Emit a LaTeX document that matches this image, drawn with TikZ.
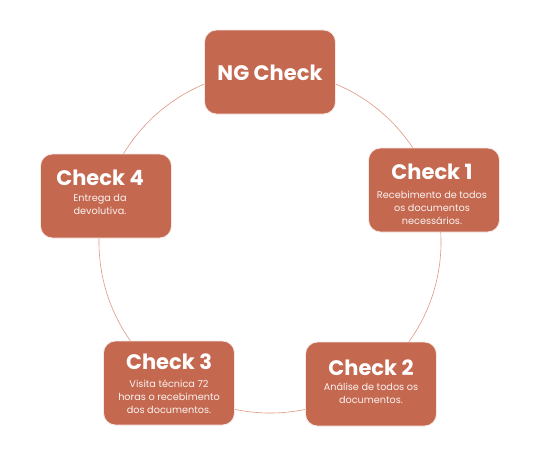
\documentclass[tikz,border=0pt]{standalone}
\usepackage{fontspec}
\setmainfont{Poppins}
\definecolor{boxc}{RGB}{197,104,80}
\definecolor{ringc}{RGB}{222,150,130}
\begin{document}
\begin{tikzpicture}[x=1pt,y=-1pt,
  card/.style={fill=boxc, draw=white!85!boxc, line width=0.8pt, rounded corners=12pt, minimum width=131pt, minimum height=84pt, inner sep=0pt},
  ttl/.style={text=white, font=\bfseries\fontsize{21}{23}\selectfont, inner sep=0pt},
  bdy/.style={text=white!92!boxc, font=\fontsize{9.7}{13}\selectfont, align=center, inner sep=0pt}]
\useasboundingbox (0,0) rectangle (540,467);
\coordinate (c) at (270,242);
\draw[ringc, line width=0.6pt] (c) circle (171);
\node[card] (b0) at (270,72) {};
\node[card] (b1) at (434,190) {};
\node[card] (b2) at (371,384) {};
\node[card] (b3) at (169,383) {};
\node[card] (b4) at (106,196) {};
\node[ttl] (t0) at (270,73) {NG Check};
\node[ttl] (t1) at (432,172) {Check 1};
\node[bdy, anchor=north] (d1) at (432,191) {Recebimento de todos\\os documentos\\necessários.};
\node[ttl] (t2) at (371,368) {Check 2};
\node[bdy, anchor=north] (d2) at (371,383) {Análise de todos os\\documentos.};
\node[ttl] (t3) at (169,362) {Check 3};
\node[bdy, anchor=north] (d3) at (169,380) {Visita técnica 72\\horas o recebimento\\dos documentos.};
\node[ttl] (t4) at (100,178) {Check 4};
\node[bdy, anchor=north] (d4) at (100,194) {Entrega da\\devolutiva.};
\end{tikzpicture}
\end{document}
